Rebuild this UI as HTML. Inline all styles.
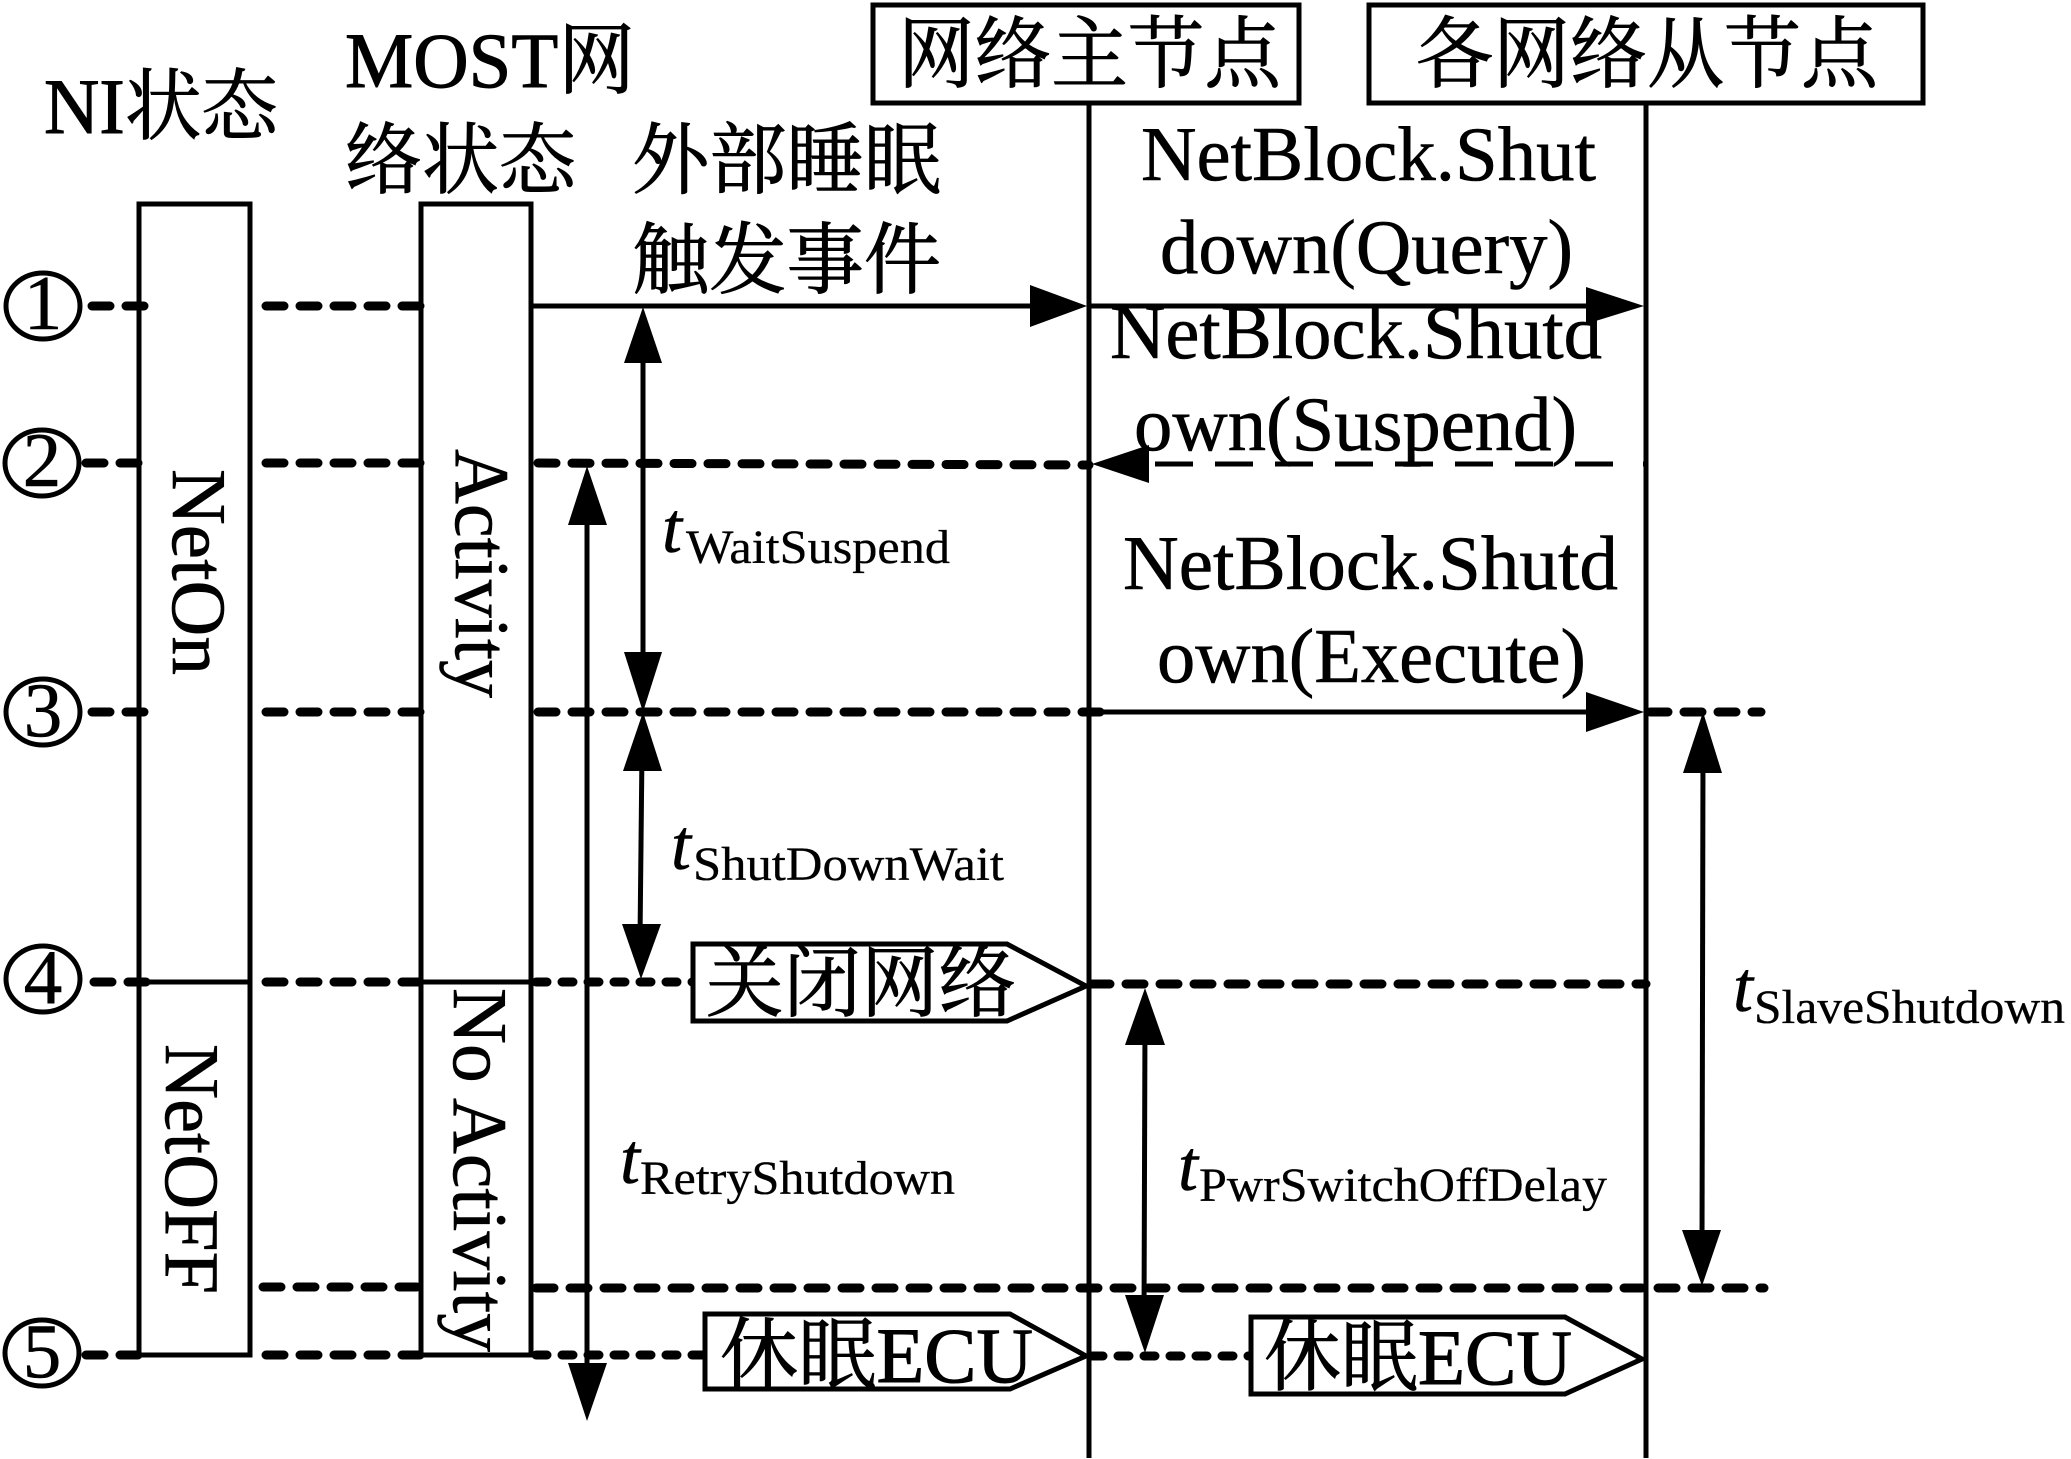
<!DOCTYPE html>
<html lang="zh">
<head>
<meta charset="utf-8">
<title>MOST网络关闭时序</title>
<style>
html,body{margin:0;padding:0;background:#fff;}
svg{display:block;}
text{font-family:"Liberation Serif","Noto Serif CJK SC",serif;fill:#000;stroke:#000;stroke-width:.6;}
.b{font-size:77px;}
.c{font-size:78px;stroke-width:1;}
.sub{font-size:48px;stroke-width:.3;}
.t{font-size:72px;font-style:italic;stroke-width:.5;}
.l{stroke:#000;stroke-width:5;fill:none;}
.a{fill:#000;stroke:none;}
.d{stroke:#000;stroke-width:9;fill:none;stroke-dasharray:18 16;stroke-linecap:round;}
.dd{stroke:#000;stroke-width:9;fill:none;stroke-dasharray:11 15;stroke-linecap:round;}
</style>
</head>
<body>
<svg width="2071" height="1459" viewBox="0 0 2071 1459" xmlns="http://www.w3.org/2000/svg">
<rect width="2071" height="1459" fill="#fff"/>

<!-- lifelines -->
<line class="l" x1="1089" y1="105" x2="1089" y2="1458"/>
<line class="l" x1="1646" y1="105" x2="1646" y2="1458"/>

<!-- headers -->
<rect x="873" y="5" width="426" height="98" fill="#fff" stroke="#000" stroke-width="5"/>
<rect x="1369" y="5" width="554" height="98" fill="#fff" stroke="#000" stroke-width="5"/>
<text class="c" x="898" y="81" textLength="383" lengthAdjust="spacingAndGlyphs">网络主节点</text>
<text class="c" x="1416" y="81" textLength="462" lengthAdjust="spacingAndGlyphs">各网络从节点</text>

<!-- state bars -->
<rect x="139" y="204" width="111" height="1151" fill="#fff" stroke="#000" stroke-width="5"/>
<rect x="421" y="204" width="110" height="1151" fill="#fff" stroke="#000" stroke-width="5"/>
<line class="l" x1="139" y1="982" x2="250" y2="982"/>
<line class="l" x1="421" y1="982" x2="531" y2="982"/>

<!-- row 1 -->
<line class="d" x1="92" y1="306" x2="144" y2="306"/>
<line class="d" x1="266" y1="306" x2="423" y2="306"/>
<line class="l" x1="531" y1="306" x2="1040" y2="306"/>
<polygon class="a" points="1030,285 1087,306 1030,327"/>
<line class="l" x1="1089" y1="306" x2="1595" y2="306"/>
<polygon class="a" points="1586,287 1644,306 1586,324"/>

<!-- row 2 -->
<line class="d" x1="86" y1="463" x2="139" y2="463"/>
<line class="d" x1="266" y1="463" x2="421" y2="463"/>
<line class="d" x1="538" y1="463" x2="1089" y2="465"/>
<line stroke="#000" stroke-width="5" stroke-dasharray="38 22" x1="1613" y1="464" x2="1140" y2="464"/>
<line stroke="#000" stroke-width="5" x1="1643" y1="464" x2="1648" y2="464"/>
<polygon class="a" points="1149,445 1092,464 1149,483"/>

<!-- row 3 -->
<line class="d" x1="92" y1="712" x2="144" y2="712"/>
<line class="d" x1="266" y1="712" x2="423" y2="712"/>
<line class="d" x1="538" y1="712" x2="1100" y2="712"/>
<line class="l" x1="1098" y1="712" x2="1595" y2="712"/>
<polygon class="a" points="1586,692 1644,712 1586,732"/>
<line class="d" x1="1650" y1="712" x2="1761" y2="712"/>

<!-- row 4 -->
<line class="d" x1="94" y1="982" x2="148" y2="982"/>
<line class="d" x1="266" y1="982" x2="423" y2="982"/>
<line class="dd" x1="536" y1="982" x2="694" y2="982"/>
<line class="d" x1="1092" y1="984" x2="1646" y2="984"/>

<!-- row 5 -->
<line class="d" x1="263" y1="1287" x2="420" y2="1287"/>
<line class="d" x1="536" y1="1288" x2="1764" y2="1288"/>

<!-- row 6 -->
<line class="d" x1="86" y1="1355" x2="139" y2="1355"/>
<line class="d" x1="266" y1="1355" x2="422" y2="1355"/>
<line class="dd" x1="536" y1="1355" x2="706" y2="1355"/>
<line class="dd" x1="1092" y1="1356" x2="1252" y2="1356"/>

<!-- pentagons -->
<polygon points="693,944 1007,944 1086,986 1007,1021 693,1021" fill="#fff" stroke="#000" stroke-width="5"/>
<polygon points="705,1314 1010,1314 1086,1356 1010,1389 705,1389" fill="#fff" stroke="#000" stroke-width="5"/>
<polygon points="1251,1317 1565,1317 1642,1359 1565,1394 1251,1394" fill="#fff" stroke="#000" stroke-width="5"/>
<text class="c" x="706" y="1010" textLength="310" lengthAdjust="spacingAndGlyphs">关闭网络</text>
<text class="c" x="720" y="1382" textLength="313" lengthAdjust="spacingAndGlyphs">休眠ECU</text>
<text class="c" x="1264" y="1384" textLength="308" lengthAdjust="spacingAndGlyphs">休眠ECU</text>

<!-- vertical arrows -->
<line class="l" x1="643" y1="340" x2="643" y2="670"/>
<polygon class="a" points="643,307 624,363 662,363"/>
<polygon class="a" points="624,652 662,652 643,712"/>
<line class="l" x1="642" y1="750" x2="640" y2="940"/>
<polygon class="a" points="643,712 623,771 662,771"/>
<polygon class="a" points="622,924 661,924 641,979"/>
<line class="l" x1="587" y1="500" x2="587" y2="1380"/>
<polygon class="a" points="587,466 568,525 607,525"/>
<polygon class="a" points="568,1363 607,1363 587,1421"/>
<line class="l" x1="1703" y1="750" x2="1702" y2="1250"/>
<polygon class="a" points="1703,712 1683,773 1722,773"/>
<polygon class="a" points="1682,1230 1721,1230 1702,1286"/>
<line class="l" x1="1145" y1="1020" x2="1144" y2="1320"/>
<polygon class="a" points="1145,988 1125,1045 1165,1045"/>
<polygon class="a" points="1125,1295 1164,1295 1145,1353"/>

<!-- numbered circles -->
<g fill="#fff" stroke="#000" stroke-width="5">
<ellipse cx="43" cy="306" rx="37" ry="33"/>
<ellipse cx="42" cy="463" rx="37" ry="33"/>
<ellipse cx="43" cy="712" rx="37" ry="33"/>
<ellipse cx="43" cy="979" rx="37" ry="33"/>
<ellipse cx="42" cy="1353" rx="37" ry="33"/>
</g>
<text class="b" x="43" y="329" text-anchor="middle">1</text>
<text class="b" x="42" y="486" text-anchor="middle">2</text>
<text class="b" x="43" y="736" text-anchor="middle">3</text>
<text class="b" x="43" y="1003" text-anchor="middle">4</text>
<text class="b" x="42" y="1377" text-anchor="middle">5</text>

<!-- column titles -->
<text class="c" x="44" y="133" textLength="234" lengthAdjust="spacingAndGlyphs">NI状态</text>
<text class="c" x="345" y="87" textLength="290" lengthAdjust="spacingAndGlyphs">MOST网</text>
<text class="c" x="345" y="187" textLength="231" lengthAdjust="spacingAndGlyphs">络状态</text>
<text class="c" x="632" y="187" textLength="309" lengthAdjust="spacingAndGlyphs">外部睡眠</text>
<text class="c" x="632" y="287" textLength="309" lengthAdjust="spacingAndGlyphs">触发事件</text>

<!-- messages -->
<text class="b" x="1141" y="180" textLength="455" lengthAdjust="spacingAndGlyphs">NetBlock.Shut</text>
<text class="b" x="1160" y="273" textLength="413" lengthAdjust="spacingAndGlyphs">down(Query)</text>
<text class="b" x="1110" y="358" textLength="492" lengthAdjust="spacingAndGlyphs">NetBlock.Shutd</text>
<text class="b" x="1134" y="450" textLength="443" lengthAdjust="spacingAndGlyphs">own(Suspend)</text>
<text class="b" x="1123" y="589" textLength="495" lengthAdjust="spacingAndGlyphs">NetBlock.Shutd</text>
<text class="b" x="1157" y="682" textLength="429" lengthAdjust="spacingAndGlyphs">own(Execute)</text>

<!-- timing labels -->
<text class="t" x="662" y="552">t</text>
<text class="sub" x="686" y="563" textLength="264" lengthAdjust="spacingAndGlyphs">WaitSuspend</text>
<text class="t" x="671" y="869">t</text>
<text class="sub" x="693" y="880" textLength="311" lengthAdjust="spacingAndGlyphs">ShutDownWait</text>
<text class="t" x="620" y="1183">t</text>
<text class="sub" x="640" y="1194" textLength="315" lengthAdjust="spacingAndGlyphs">RetryShutdown</text>
<text class="t" x="1733" y="1011">t</text>
<text class="sub" x="1754" y="1023" textLength="311" lengthAdjust="spacingAndGlyphs">SlaveShutdown</text>
<text class="t" x="1178" y="1190">t</text>
<text class="sub" x="1199" y="1201" textLength="408" lengthAdjust="spacingAndGlyphs">PwrSwitchOffDelay</text>

<!-- rotated state labels -->
<text class="b" transform="translate(173,469) rotate(90)" textLength="206" lengthAdjust="spacingAndGlyphs">NetOn</text>
<text class="b" transform="translate(456,449) rotate(90)" textLength="249" lengthAdjust="spacingAndGlyphs">Activity</text>
<text class="b" transform="translate(166,1044) rotate(90)" textLength="250" lengthAdjust="spacingAndGlyphs">NetOFF</text>
<text class="b" transform="translate(454,988) rotate(90)" textLength="364" lengthAdjust="spacingAndGlyphs">No Activity</text>
</svg>
</body>
</html>
